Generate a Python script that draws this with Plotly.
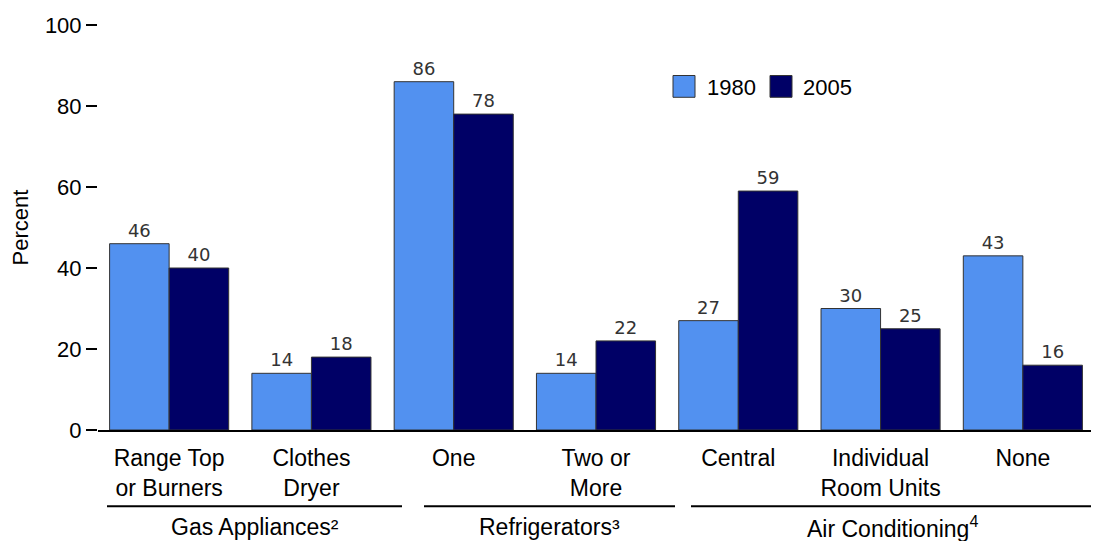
import plotly.graph_objects as go

categories = ["Range Top<br>or Burners", "Clothes<br>Dryer", "One", "Two or<br>More",
              "Central", "Individual<br>Room Units", "None"]
values_1980 = [46, 14, 86, 14, 27, 30, 43]
values_2005 = [40, 18, 78, 22, 59, 25, 16]
series_names = ["1980", "2005"]
group_labels = ["Gas Appliances²", "Refrigerators³", "Air Conditioning<sup>4</sup>"]
y_ticks = [0, 20, 40, 60, 80, 100]

COL_1980 = "#5291F0"
COL_2005 = "#000066"

OFF = 8  # page body margin
W, H = 1099 - OFF, 541 - OFF
ML, MR, MT, MB = 98 - OFF, 5, 21 - OFF, 111
PW, PH = W - ML - MR, H - MT - MB


def px(x):
    # x in reference screen pixels -> paper
    return (x - OFF - ML) / PW


def py(y):
    return (H - MB - (y - OFF)) / PH


fig = go.Figure()
for name, vals, col in [(series_names[0], values_1980, COL_1980),
                        (series_names[1], values_2005, COL_2005)]:
    fig.add_trace(go.Bar(
        x=categories, y=vals, name=name,
        marker=dict(color=col, line=dict(color="#333333", width=1)),
        text=[str(v) for v in vals], textposition="outside",
        textfont=dict(family="DejaVu Sans", size=18, color="#333333"),
        cliponaxis=False, showlegend=False,
    ))

shapes = []
annotations = []

# legend (custom squares)
for (x0, x1, tx, label, col) in [(673, 695, 705, series_names[0], COL_1980),
                                  (770, 792, 801, series_names[1], COL_2005)]:
    shapes.append(dict(type="rect", xref="paper", yref="paper",
                       x0=px(x0), x1=px(x1), y0=py(94), y1=py(72),
                       fillcolor=col, line=dict(color="#333333", width=1)))
    annotations.append(dict(text=label, xref="paper", yref="paper", x=px(tx), y=py(84),
                            xanchor="left", yanchor="middle", showarrow=False,
                            font=dict(family="Liberation Sans, Arial", size=22, color="black")))

# group lines and labels
for (x0, x1, label) in [(107, 402, group_labels[0]), (424, 675, group_labels[1]),
                        (691, 1094, group_labels[2])]:
    shapes.append(dict(type="line", xref="paper", yref="paper",
                       x0=px(x0), x1=px(x1), y0=py(507), y1=py(507),
                       line=dict(color="black", width=2)))
    annotations.append(dict(text=label, xref="paper", yref="paper",
                            x=px((x0 + x1) / 2), y=py(528),
                            xanchor="center", yanchor="middle", showarrow=False,
                            font=dict(family="Liberation Sans, Arial", size=23, color="black")))

fig.update_layout(
    width=W, height=H,
    margin=dict(l=ML, r=MR, t=MT, b=MB),
    plot_bgcolor="white", paper_bgcolor="white",
    barmode="group", bargap=0.163, bargroupgap=0,
    font=dict(family="Liberation Sans, Arial", size=22, color="black"),
    shapes=shapes, annotations=annotations,
    xaxis=dict(showline=True, linecolor="black", linewidth=2, ticks="",
               showgrid=False, zeroline=False, tickfont=dict(size=23),
               ticklabelstandoff=6, range=[-0.5, 6.5]),
    yaxis=dict(range=[0, 100], tickvals=y_ticks, ticks="outside", ticklen=11,
               tickwidth=2, tickcolor="black", showline=False, showgrid=False,
               zeroline=False, tickfont=dict(size=22),
               title=dict(text="Percent", font=dict(size=22), standoff=14)),
)

fig.write_html("out.html")
